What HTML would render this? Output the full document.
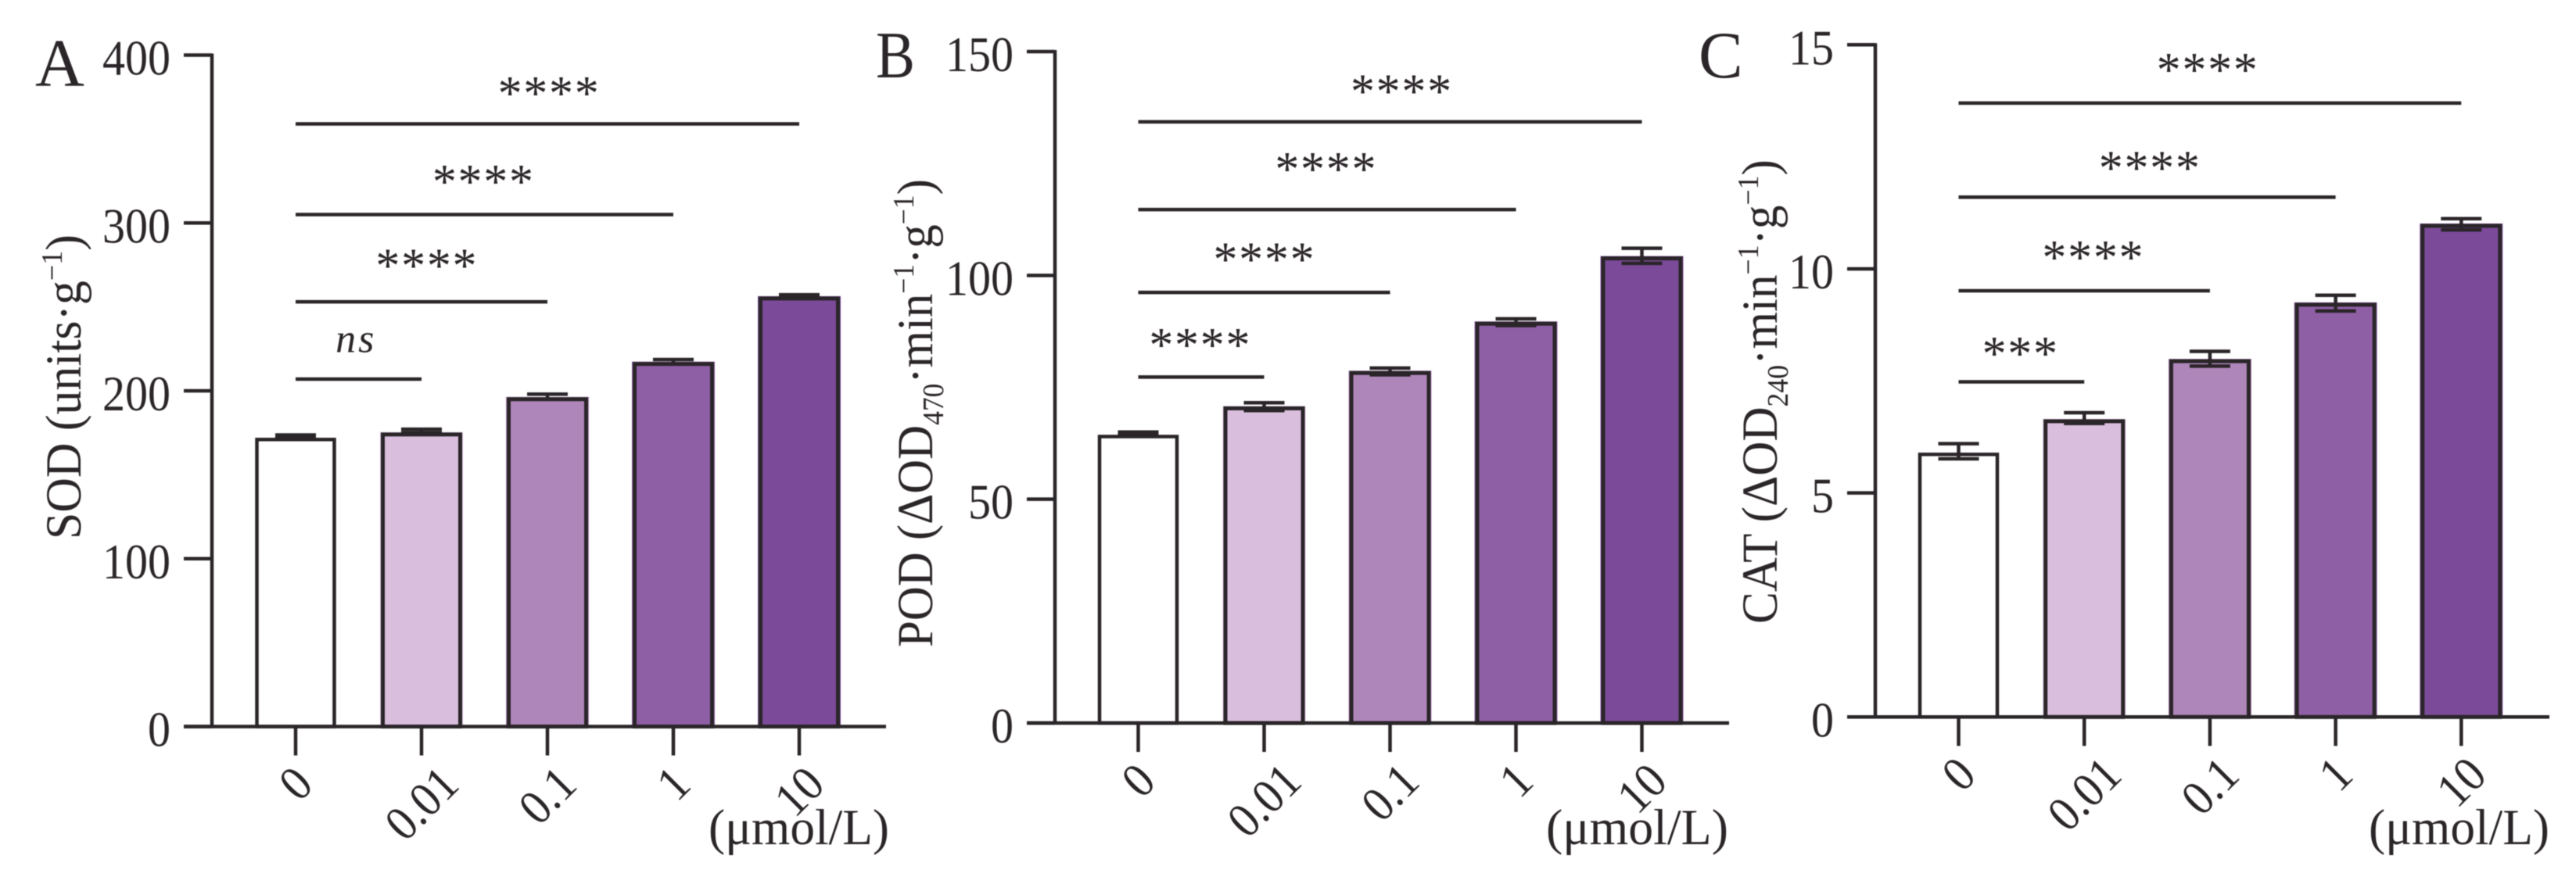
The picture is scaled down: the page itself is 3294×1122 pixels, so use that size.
<!DOCTYPE html>
<html lang="en">
<head>
<meta charset="utf-8">
<title>SOD, POD and CAT activity</title>
<style>
html,body{margin:0;padding:0;background:#fff;}
svg{display:block;filter:blur(0.5px);}
text{font-family:"Liberation Serif",serif;fill:#2a2528;}
</style>
</head>
<body>
<svg id="chart" xmlns="http://www.w3.org/2000/svg" width="3294" height="1122" viewBox="0 0 3294 1122">
<rect x="0" y="0" width="3294" height="1122" fill="#ffffff"/>
<text x="45" y="110" font-size="87">A</text>
<text x="1120" y="99" font-size="85" textLength="50" lengthAdjust="spacingAndGlyphs">B</text>
<text x="2172" y="99" font-size="85">C</text>
<text id="title-sod" x="0" y="0" font-size="65">SOD (units·g<tspan font-size="38" dy="-24">−1</tspan><tspan dy="24">)</tspan></text>
<text id="title-pod" x="0" y="0" font-size="65">POD (ΔOD<tspan font-size="38" dy="14">470</tspan><tspan dy="-14">·min</tspan><tspan font-size="38" dy="-24">−1</tspan><tspan dy="24">·g</tspan><tspan font-size="38" dy="-24">−1</tspan><tspan dy="24">)</tspan></text>
<text id="title-cat" x="0" y="0" font-size="65">CAT (ΔOD<tspan font-size="38" dy="14">240</tspan><tspan dy="-14">·min</tspan><tspan font-size="38" dy="-24">−1</tspan><tspan dy="24">·g</tspan><tspan font-size="38" dy="-24">−1</tspan><tspan dy="24">)</tspan></text>
<text x="906" y="1080" font-size="65" textLength="231" lengthAdjust="spacingAndGlyphs">(μmol/L)</text>
<text x="1977" y="1080" font-size="65" textLength="233" lengthAdjust="spacingAndGlyphs">(μmol/L)</text>
<text x="3029" y="1080" font-size="65" textLength="231" lengthAdjust="spacingAndGlyphs">(μmol/L)</text>
</svg>
<script>
// Shared categories
const categories = ["0", "0.01", "0.1", "1", "10"];

// Panel A: SOD
const sodValues = [171, 174, 195, 216, 255];
const sodErrorsUp = [2.7, 3.1, 3, 2.6, 2.2];
const sodErrorsDown = [-1, -1, 0, 0, -1];
const sodTicks = [0, 100, 200, 300, 400];
const sodBracketHeights = [207, 253, 305, 359];
const sodBracketLabels = ["ns", "****", "****", "****"];
const sodBracketLabelHeights = [229, 278, 328, 380.7];
const sodBracketLabelCenters = [0.48, 1.03, 1.48, 2.0];

// Panel B: POD
const podValues = [64, 70.3, 78.2, 89.2, 103.8];
const podErrorsUp = [1, 1.25, 1.1, 1.1, 2.25];
const podErrorsDown = [-0.4, 0.5, 0.4, 0.4, 1.1];
const podTicks = [0, 50, 100, 150];
const podBracketHeights = [77.3, 96.2, 114.7, 134.3];
const podBracketLabels = ["****", "****", "****", "****"];
const podBracketLabelHeights = [85.7, 104.9, 125, 142.4];
const podBracketLabelCenters = [0.48, 0.99, 1.48, 2.08];

// Panel C: CAT
const catValues = [5.86, 6.6, 7.94, 9.2, 10.96];
const catErrorsUp = [0.24, 0.19, 0.22, 0.21, 0.16];
const catErrorsDown = [0.1, 0.05, 0.11, 0.14, 0.09];
const catTicks = [0, 5, 10, 15];
const catBracketHeights = [7.48, 9.51, 11.6, 13.7];
const catBracketLabels = ["***", "****", "****", "****"];
const catBracketLabelHeights = [8.24, 10.38, 12.38, 14.57];
const catBracketLabelCenters = [0.48, 1.06, 1.51, 1.97];

const barFills = ["#ffffff", "#d9bfdd", "#af86ba", "#8f5fa5", "#7b4b99"];
const INK = "#2a2528";
const svg = document.getElementById("chart");
const NS = "http://www.w3.org/2000/svg";

function draw(tag, attrs, text) {
  const el = document.createElementNS(NS, tag);
  for (const k in attrs) el.setAttribute(k, attrs[k]);
  if (text !== undefined) el.textContent = text;
  svg.appendChild(el);
  return el;
}

// Printed width of a numeric label, narrower than the default digits.
function labelWidth(str) {
  let w = 0;
  for (const ch of str) w += ch === "." ? 14.5 : 29;
  return w;
}

function fitTitle(id, x, y, target) {
  const el = document.getElementById(id);
  const sx = target / el.getComputedTextLength();
  el.setAttribute("transform", "translate(" + x + " " + y + ") rotate(-90) scale(" + sx + " 1)");
}

function drawPanel(p) {
  const yScale = v => p.y0 - v * (p.y0 - p.yTop) / p.ticks[p.ticks.length - 1];
  const xScale = i => p.x0 + i * p.step;
  const lineStyle = {stroke: INK, "stroke-width": 4.5, fill: "none"};

  // y axis
  const yAxis = draw("line", Object.assign({x1: p.axisX, x2: p.axisX, y1: yScale(p.ticks[p.ticks.length - 1]) - 2, y2: p.y0 + 2}, lineStyle));
  
  
  p.ticks.forEach(t => {
    const tick = draw("line", Object.assign({x1: p.axisX - 36, x2: p.axisX, y1: yScale(t), y2: yScale(t)}, lineStyle));
    
    
    const str = String(t);
    const label = draw("text", {x: p.axisX - 53, y: yScale(t) + 25, "font-size": 63, "text-anchor": "end", textLength: labelWidth(str), lengthAdjust: "spacingAndGlyphs"}, str);
    
    
  });

  // bars
  p.values.forEach((v, i) => {
    const cx = xScale(i);
    const top = yScale(v);
    if (i > 0) {
      const halo = draw("rect", {x: cx - 53, y: top - 3, width: 106, height: p.y0 - top + 3, fill: barFills[i]});
      
      
    }
    const bar = draw("rect", {x: cx - 49.5, y: top, width: 99, height: p.y0 - top, fill: barFills[i], stroke: INK, "stroke-width": i > 0 ? 5 : 4.5});
    
    

    const hi = yScale(v + p.errorsUp[i]);
    const lo = yScale(v - p.errorsDown[i]);
    const stem = draw("line", Object.assign({x1: cx, x2: cx, y1: hi, y2: lo}, lineStyle));
    
    
    const capTop = draw("line", Object.assign({x1: cx - 26, x2: cx + 26, y1: hi, y2: hi}, lineStyle));
    
    
    const capBottom = draw("line", Object.assign({x1: cx - 26, x2: cx + 26, y1: lo, y2: lo}, lineStyle));
    
    
  });

  // x axis
  const xAxis = draw("line", Object.assign({x1: p.axisX - 36, x2: p.axisX + 862, y1: p.y0, y2: p.y0}, lineStyle));
  
  
  categories.forEach((c, i) => {
    const cx = xScale(i);
    const tick = draw("line", Object.assign({x1: cx, x2: cx, y1: p.y0, y2: p.y0 + 37}, lineStyle));
    
    
    const w = labelWidth(c);
    const ty = p.labelEndY + w / 2 * Math.SQRT1_2;
    const label = draw("text", {x: cx, y: ty, "font-size": 63, "text-anchor": "middle", dy: "0.33em", textLength: w, lengthAdjust: "spacingAndGlyphs", transform: "rotate(-45 " + cx + " " + ty + ")"}, c);
    
    
  });

  // significance brackets
  p.bracketHeights.forEach((h, i) => {
    const line = draw("line", Object.assign({x1: xScale(0), x2: xScale(i + 1), y1: yScale(h), y2: yScale(h)}, lineStyle));
    
    
    const isNs = p.bracketLabels[i] === "ns";
    const attrs = {x: xScale(p.bracketLabelCenters[i]), "text-anchor": "middle"};
    if (isNs) {
      attrs.y = yScale(p.bracketLabelHeights[i]) + 13;
      attrs["font-size"] = 52;
      attrs["font-style"] = "italic";
      attrs["letter-spacing"] = 3;
    } else {
      attrs.x += 2;
      attrs.y = yScale(p.bracketLabelHeights[i]) + 28;
      attrs["font-size"] = 62;
      attrs["letter-spacing"] = 1.7;
    }
    const label = draw("text", attrs, p.bracketLabels[i]);
    
    
  });
}

fitTitle("title-sod", 103, 690, 390);
fitTitle("title-pod", 1192, 828, 599);
fitTitle("title-cat", 2272, 798, 594);

drawPanel({key: "sod", values: sodValues, errorsUp: sodErrorsUp, errorsDown: sodErrorsDown, ticks: sodTicks,
  bracketHeights: sodBracketHeights, bracketLabels: sodBracketLabels,
  bracketLabelHeights: sodBracketLabelHeights, bracketLabelCenters: sodBracketLabelCenters,
  axisX: 271, x0: 378, step: 161, y0: 929.5, yTop: 70.5, labelEndY: 992});
drawPanel({key: "pod", values: podValues, errorsUp: podErrorsUp, errorsDown: podErrorsDown, ticks: podTicks,
  bracketHeights: podBracketHeights, bracketLabels: podBracketLabels,
  bracketLabelHeights: podBracketLabelHeights, bracketLabelCenters: podBracketLabelCenters,
  axisX: 1349, x0: 1455.5, step: 161, y0: 925, yTop: 66, labelEndY: 988});
drawPanel({key: "cat", values: catValues, errorsUp: catErrorsUp, errorsDown: catErrorsDown, ticks: catTicks,
  bracketHeights: catBracketHeights, bracketLabels: catBracketLabels,
  bracketLabelHeights: catBracketLabelHeights, bracketLabelCenters: catBracketLabelCenters,
  axisX: 2398, x0: 2504.5, step: 160.7, y0: 917.3, yTop: 57.3, labelEndY: 980});
</script>
</body>
</html>
